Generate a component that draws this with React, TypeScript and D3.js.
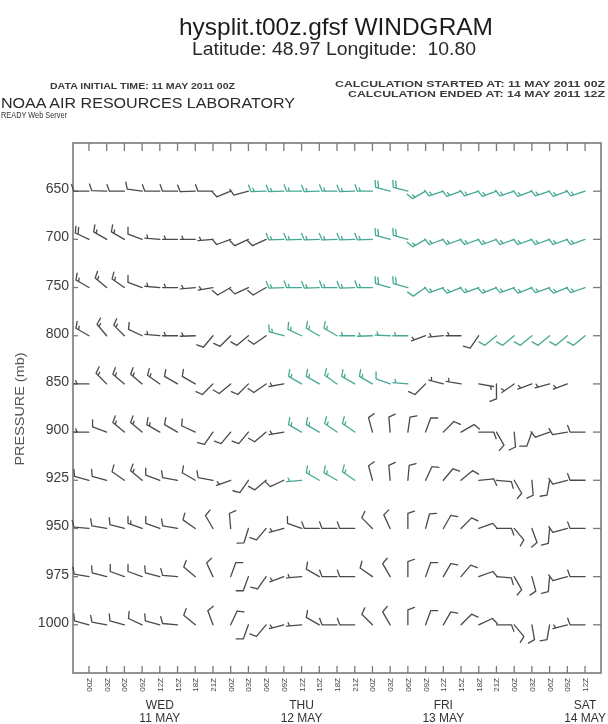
import React from "react";
import * as d3 from "d3";

const levels = ["650", "700", "750", "800", "850", "900", "925", "950", "975", "1000"];
const hourLabels = [
  "00Z", "03Z", "06Z", "09Z", "12Z", "15Z", "18Z", "21Z",
  "00Z", "03Z", "06Z", "09Z", "12Z", "15Z", "18Z", "21Z",
  "00Z", "03Z", "06Z", "09Z", "12Z", "15Z", "18Z", "21Z",
  "00Z", "03Z", "06Z", "09Z", "12Z",
];
const dayNames = ["WED", "THU", "FRI", "SAT"];
const dayDates = ["11 MAY", "12 MAY", "13 MAY", "14 MAY"];
const dayTickIndex = [4, 12, 20, 28];

// wind direction (deg, from) and speed (kt) per pressure level, 3-hourly
const dir650 = [270,272,270,278,270,270,268,270,248,255,268,268,270,268,270,268,270,285,285,240,252,250,252,250,252,250,252,250,252];
const spd650 = [10,10,10,10,10,10,10,10,10,10,15,15,15,15,15,15,15,20,20,15,15,15,15,15,15,15,15,15,15];
const dir700 = [295,300,300,290,275,270,270,265,250,245,245,268,268,268,268,268,268,285,285,240,250,250,250,250,250,250,250,250,250];
const spd700 = [20,15,15,10,5,5,5,5,10,10,10,15,15,15,15,15,15,20,20,15,15,15,15,15,15,15,15,15,15];
const dir750 = [300,310,305,290,275,270,265,260,240,245,240,268,270,268,270,268,270,285,285,235,250,248,250,248,250,248,250,248,250];
const spd750 = [15,15,15,10,5,5,5,5,10,10,10,15,15,15,15,15,15,20,20,10,15,15,15,15,15,15,15,15,15];
const dir800 = [300,320,315,295,275,270,268,220,225,230,235,285,295,300,300,270,268,272,270,250,265,270,215,230,230,230,230,230,230];
const spd800 = [15,15,15,10,5,5,5,10,10,10,10,15,15,15,15,5,5,5,5,5,5,5,10,10,10,10,10,10,10];
const dir850 = [270,315,310,310,305,300,300,225,230,225,235,260,300,300,305,300,300,290,275,225,285,280,100,180,235,250,255,250,0];
const spd850 = [5,15,15,15,15,10,10,10,10,10,10,5,15,15,15,15,15,10,5,10,5,5,5,10,5,5,5,5,0];
const dir900 = [270,290,310,310,300,300,295,215,220,220,230,260,300,300,305,305,345,355,8,20,45,60,90,150,175,200,250,260,270];
const spd900 = [5,10,15,15,15,10,10,10,10,10,10,5,15,15,15,15,10,10,10,10,10,10,10,10,10,10,10,10,10];
const dir925 = [285,285,305,310,290,280,300,280,250,215,230,245,265,300,300,305,345,355,5,25,40,50,85,95,150,175,190,255,270];
const spd925 = [10,10,10,15,10,10,10,10,5,10,10,10,5,15,15,15,10,10,10,10,10,10,10,10,10,10,10,10,10];
const dir950 = [275,280,285,290,290,280,305,330,355,197,220,255,290,270,270,270,315,335,0,15,30,45,70,90,140,160,185,255,270];
const spd950 = [10,10,10,15,10,10,10,10,10,10,10,5,10,10,10,10,10,10,10,10,10,10,10,10,10,10,10,10,10];
const dir975 = [280,285,290,290,285,275,310,335,20,200,215,250,265,300,270,270,305,330,0,20,30,40,70,95,150,165,185,255,270];
const spd975 = [10,10,10,10,10,10,10,10,10,10,10,5,5,10,10,10,10,10,10,10,10,10,10,10,10,10,10,10,10];
const dir1000 = [285,280,285,295,285,275,310,340,25,200,220,255,265,300,270,270,315,330,0,20,30,45,65,90,140,170,190,255,270];
const spd1000 = [10,10,10,10,10,10,10,10,10,10,10,5,5,10,10,10,10,10,10,10,10,10,10,10,10,10,10,5,10];

// time-index spans drawn in the second (teal) colour class, per level
const teal650 = [[10, 28]];
const teal700 = [[11, 28]];
const teal750 = [[11, 28]];
const teal800 = [[11, 18], [23, 28]];
const teal850 = [[12, 18]];
const teal900 = [[12, 15]];
const teal925 = [[12, 15]];
const teal950: number[][] = [];
const teal975: number[][] = [];
const teal1000: number[][] = [];

const dirs = [dir650, dir700, dir750, dir800, dir850, dir900, dir925, dir950, dir975, dir1000];
const spds = [spd650, spd700, spd750, spd800, spd850, spd900, spd925, spd950, spd975, spd1000];
const teals = [teal650, teal700, teal750, teal800, teal850, teal900, teal925, teal950, teal975, teal1000];

const FONT = "'Liberation Sans', Arial, Helvetica, sans-serif";
const LEFT = 73, RIGHT = 601, TOP = 143, BOTTOM = 673;
const GRAY = "#4a4a4a";
const TEAL = "#48a893";

function barbPath(x: number, y: number, dir: number, spd: number) {
  const L = 15, F = 7, gap = 3;
  const rad = (dir * Math.PI) / 180;
  const ux = Math.sin(rad), uy = -Math.cos(rad);
  const rx = -uy, ry = ux;
  const a = (70 * Math.PI) / 180;
  const fx = Math.cos(a) * ux + Math.sin(a) * rx;
  const fy = Math.cos(a) * uy + Math.sin(a) * ry;
  const ex = x + L * ux, ey = y + L * uy;
  let d = `M${x},${y}L${ex},${ey}`;
  const n10 = Math.floor(spd / 10);
  const n5 = spd % 10 >= 5 ? 1 : 0;
  let pos = 0;
  for (let k = 0; k < n10; k++) {
    const px = ex - pos * ux, py = ey - pos * uy;
    d += `M${px},${py}l${F * fx},${F * fy}`;
    pos += gap;
  }
  if (n5) {
    if (n10 === 0) pos = gap;
    const px = ex - pos * ux, py = ey - pos * uy;
    d += `M${px},${py}l${(F / 2) * fx},${(F / 2) * fy}`;
  }
  return d;
}

export default function App() {
  const idx = d3.range(hourLabels.length);
  const x = d3.scalePoint<number>().domain(idx).range([LEFT, RIGHT]).padding(0.9);
  const y = d3.scalePoint<string>().domain(levels).range([TOP, BOTTOM]).padding(1);

  const isTeal = (li: number, t: number) => teals[li].some(([a, b]) => t >= a && t <= b);

  return (
    <svg width={608} height={724} style={{ position: "absolute", left: 0, top: 0, background: "#fff" }}
      fontFamily={FONT}>
      <defs>
        <filter id="soft" x="-5%" y="-5%" width="110%" height="110%">
          <feGaussianBlur stdDeviation="0.35" />
        </filter>
      </defs>
      <rect width={608} height={724} fill="#fff" />
      <g filter="url(#soft)">
        <text x={336} y={35} textAnchor="middle" fontSize={24} fill="#1e1e1e" textLength={314} lengthAdjust="spacingAndGlyphs">
          hysplit.t00z.gfsf WINDGRAM
        </text>
        <text x={334} y={55} textAnchor="middle" fontSize={18} fill="#2a2a2a" textLength={284} lengthAdjust="spacingAndGlyphs" style={{ whiteSpace: "pre" }}>
          {"Latitude: 48.97 Longitude:  10.80"}
        </text>
        <text x={50} y={89} fontSize={9.5} fontWeight="bold" fill="#3a3a3a" textLength={185} lengthAdjust="spacingAndGlyphs">
          DATA INITIAL TIME: 11 MAY 2011 00Z
        </text>
        <text x={605} y={86.5} textAnchor="end" fontSize={9} fontWeight="bold" fill="#3a3a3a" textLength={270} lengthAdjust="spacingAndGlyphs">
          CALCULATION STARTED AT: 11 MAY 2011 00Z
        </text>
        <text x={605} y={97} textAnchor="end" fontSize={9} fontWeight="bold" fill="#3a3a3a" textLength={257} lengthAdjust="spacingAndGlyphs">
          CALCULATION ENDED AT: 14 MAY 2011 12Z
        </text>
        <text x={1} y={108} fontSize={15.5} fill="#2a2a2a" textLength={294} lengthAdjust="spacingAndGlyphs">
          NOAA AIR RESOURCES LABORATORY
        </text>
        <text x={1} y={118} fontSize={8.5} fill="#333" textLength={66} lengthAdjust="spacingAndGlyphs">
          READY Web Server
        </text>

        {/* frame */}
        <rect x={LEFT} y={TOP} width={RIGHT - LEFT} height={BOTTOM - TOP} fill="none" stroke="#7a7a7a" strokeWidth={1.6} />
        {idx.map((i) => (
          <g key={"t" + i} stroke="#7a7a7a" strokeWidth={1.3}>
            <line x1={x(i)} x2={x(i)} y1={TOP} y2={TOP + 8} />
            <line x1={x(i)} x2={x(i)} y1={BOTTOM} y2={BOTTOM - 7} />
          </g>
        ))}
        {levels.map((lv) => (
          <g key={"l" + lv}>
            <line x1={LEFT} x2={LEFT + 5} y1={y(lv)} y2={y(lv)} stroke="#7a7a7a" strokeWidth={1.3} />
            <line x1={RIGHT} x2={RIGHT - 8} y1={y(lv)} y2={y(lv)} stroke="#7a7a7a" strokeWidth={1.3} />
            <text x={69} y={(y(lv) as number) + 2} textAnchor="end" fontSize={14} fill="#3c3c3c">
              {lv}
            </text>
          </g>
        ))}
        <text transform={`translate(24,409) rotate(-90)`} textAnchor="middle" fontSize={13.5} fill="#555" textLength={113} lengthAdjust="spacingAndGlyphs">
          PRESSURE (mb)
        </text>

        {/* time labels */}
        {idx.map((i) => (
          <text key={"h" + i} transform={`translate(${(x(i) as number) + 3},678) rotate(-90)`} textAnchor="end" fontSize={8} fill="#444">
            {hourLabels[i]}
          </text>
        ))}
        {dayNames.map((dn, k) => (
          <g key={dn}>
            <text x={x(dayTickIndex[k])} y={709} textAnchor="middle" fontSize={12} fill="#333">{dn}</text>
            <text x={x(dayTickIndex[k])} y={722} textAnchor="middle" fontSize={12} fill="#333">{dayDates[k]}</text>
          </g>
        ))}

        {/* wind barbs */}
        {levels.map((lv, li) => (
          <g key={"b" + lv} fill="none" strokeWidth={1.3} strokeLinecap="round" strokeLinejoin="round">
            {idx.map((t) =>
              spds[li][t] > 0 ? (
                <path key={t} d={barbPath(x(t) as number, y(lv) as number, dirs[li][t], spds[li][t])}
                  stroke={isTeal(li, t) ? TEAL : GRAY} />
              ) : null
            )}
          </g>
        ))}
      </g>
    </svg>
  );
}
